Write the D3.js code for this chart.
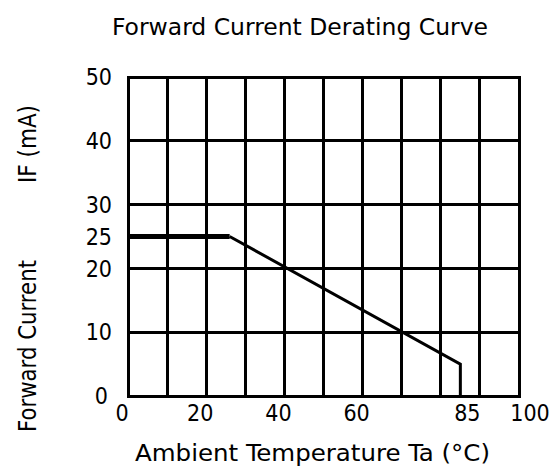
<!DOCTYPE html>
<html>
<head>
<meta charset="utf-8">
<script src="https://cdn.jsdelivr.net/npm/d3@7"></script>
<style>
  body { margin: 0; background: #fff; }
  text { font-family: "DejaVu Sans Condensed", "DejaVu Sans", sans-serif; fill: #000; }
</style>
</head>
<body>
<div id="chart"></div>
<script>
const width = 555;
const height = 466;

// data
const xGrid = [0, 10, 20, 30, 40, 50, 60, 70, 80, 90, 100];
const yGrid = [0, 10, 20, 30, 40, 50];
const xTicks = [0, 20, 40, 60, 85, 100];
const yTicks = [0, 10, 20, 25, 30, 40, 50];
const curveTemp = [0, 26, 85, 85];
const curveCurrent = [25, 25, 5, 0];

const svg = d3.select("#chart").append("svg")
  .attr("width", width)
  .attr("height", height);

const x = d3.scaleLinear().domain([0, 100]).range([128, 519]);
const y = d3.scaleLinear().domain([0, 50]).range([396, 77]);

// grid
const grid = svg.append("g")
  .attr("stroke", "#000")
  .attr("stroke-width", 3)
  .attr("shape-rendering", "crispEdges");

grid.selectAll(".v")
  .data(xGrid)
  .enter().append("line")
  .attr("x1", d => x(d)).attr("x2", d => x(d))
  .attr("y1", y(50)).attr("y2", y(0));

grid.selectAll(".h")
  .data(yGrid)
  .enter().append("line")
  .attr("x1", x(0) - 1.5).attr("x2", x(100) + 1.5)
  .attr("y1", d => y(d)).attr("y2", d => y(d));

// derating curve
const pts = curveTemp.map((t, i) => [x(t), y(curveCurrent[i])]);

svg.append("path")
  .attr("d", d3.line()(pts.slice(1)))
  .attr("fill", "none")
  .attr("stroke", "#000")
  .attr("stroke-width", 3);

svg.append("line")
  .attr("x1", pts[0][0]).attr("x2", pts[1][0])
  .attr("y1", pts[0][1]).attr("y2", pts[1][1])
  .attr("stroke", "#000")
  .attr("stroke-width", 5);

// tick labels
svg.append("g").selectAll("text")
  .data(yTicks)
  .enter().append("text")
  .attr("x", d => d === 0 ? 108 : 112)
  .attr("y", d => y(d))
  .attr("dy", "0.36em")
  .attr("text-anchor", "end")
  .attr("font-size", 23)
  .text(d => d);

const xNudge = { 85: 7, 100: 11 };
svg.append("g").selectAll("text")
  .data(xTicks)
  .enter().append("text")
  .attr("x", d => x(d) + (xNudge[d] !== undefined ? xNudge[d] : -6))
  .attr("y", 421)
  .attr("text-anchor", "middle")
  .attr("font-size", 23)
  .text(d => d);

// titles
svg.append("text")
  .attr("x", 112).attr("y", 35)
  .attr("font-size", 23)
  .attr("textLength", 376)
  .attr("lengthAdjust", "spacingAndGlyphs")
  .text("Forward Current Derating Curve");

svg.append("text")
  .attr("x", 135).attr("y", 461)
  .attr("font-size", 23)
  .attr("textLength", 355)
  .attr("lengthAdjust", "spacingAndGlyphs")
  .text("Ambient Temperature Ta (°C)");

svg.append("text")
  .attr("transform", "translate(36,432) rotate(-90)")
  .attr("font-size", 24)
  .attr("textLength", 172)
  .attr("lengthAdjust", "spacingAndGlyphs")
  .text("Forward Current");

svg.append("text")
  .attr("transform", "translate(36,183) rotate(-90)")
  .attr("font-size", 24)
  .attr("textLength", 78)
  .attr("lengthAdjust", "spacingAndGlyphs")
  .text("IF (mA)");
</script>
</body>
</html>
